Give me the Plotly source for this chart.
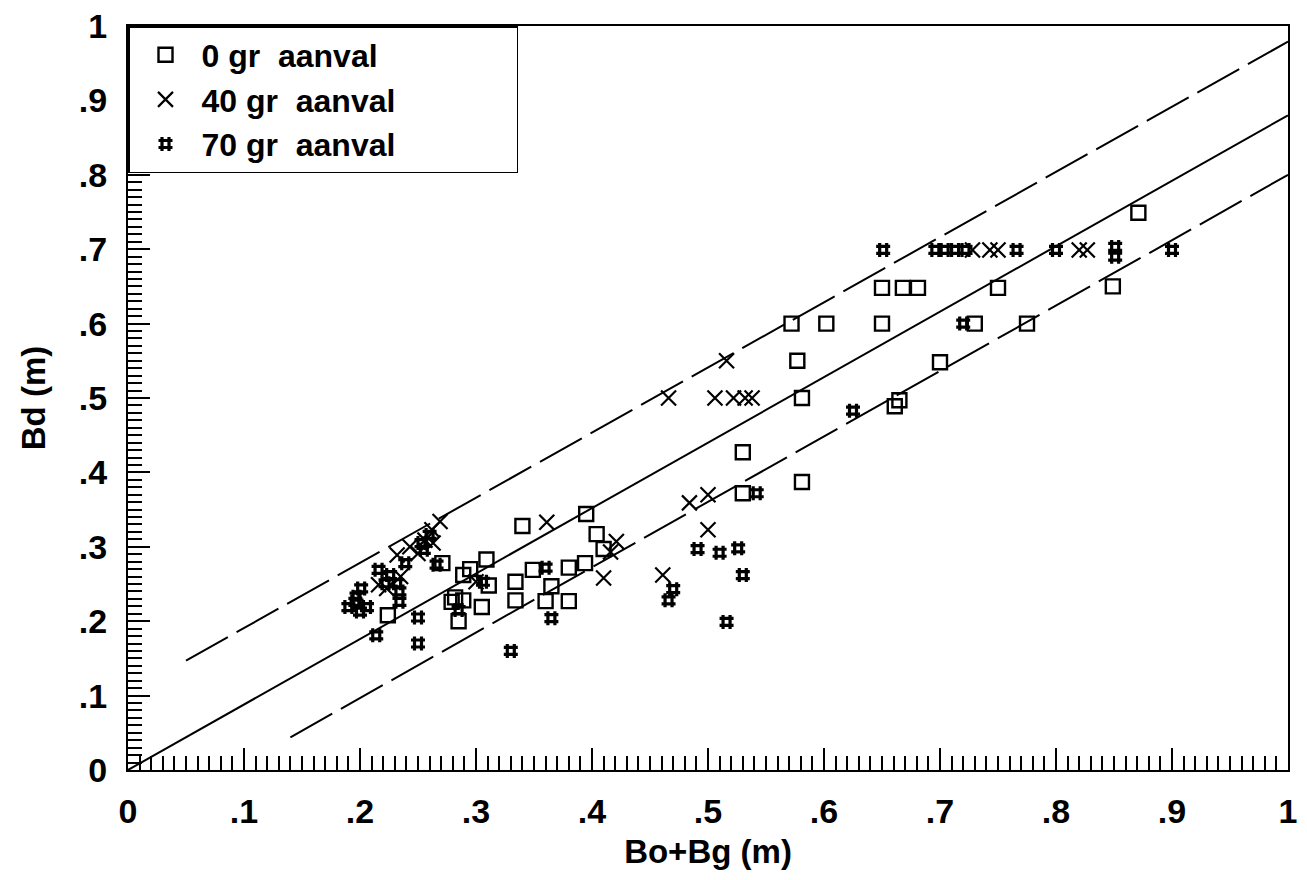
import plotly.graph_objects as go

# ---- data ----
sq_x = [0.224, 0.271, 0.279, 0.282, 0.285, 0.289, 0.289, 0.295, 0.305, 0.309,
        0.311, 0.334, 0.334, 0.340, 0.349, 0.360, 0.365, 0.380, 0.380, 0.394,
        0.395, 0.404, 0.410, 0.530, 0.530, 0.572, 0.577, 0.581, 0.581, 0.602,
        0.650, 0.650, 0.661, 0.665, 0.668, 0.681, 0.700, 0.730, 0.750, 0.775,
        0.849, 0.871]
sq_y = [0.208, 0.278, 0.226, 0.232, 0.200, 0.228, 0.262, 0.270, 0.219, 0.283,
        0.248, 0.253, 0.228, 0.328, 0.269, 0.227, 0.247, 0.272, 0.227, 0.278,
        0.344, 0.317, 0.297, 0.427, 0.372, 0.600, 0.550, 0.500, 0.387, 0.600,
        0.648, 0.600, 0.489, 0.497, 0.648, 0.648, 0.548, 0.600, 0.648, 0.600,
        0.650, 0.749]

x40_x = [0.216, 0.223, 0.232, 0.235, 0.243, 0.250, 0.256, 0.262, 0.263, 0.269,
         0.300, 0.361, 0.410, 0.416, 0.421, 0.461, 0.466, 0.484, 0.500, 0.500,
         0.506, 0.516, 0.522, 0.532, 0.538, 0.728, 0.743, 0.750, 0.820, 0.827]
x40_y = [0.249, 0.244, 0.289, 0.260, 0.300, 0.291, 0.309, 0.323, 0.305, 0.334,
         0.253, 0.333, 0.258, 0.293, 0.307, 0.262, 0.500, 0.359, 0.370, 0.323,
         0.500, 0.550, 0.500, 0.500, 0.500, 0.699, 0.699, 0.699, 0.699, 0.699]

h70_x = [0.190, 0.196, 0.197, 0.200, 0.201, 0.206, 0.214, 0.216, 0.222, 0.226,
         0.232, 0.234, 0.234, 0.239, 0.250, 0.250, 0.253, 0.255, 0.260, 0.266,
         0.285, 0.306, 0.330, 0.360, 0.365, 0.466, 0.470, 0.491, 0.510, 0.516,
         0.526, 0.530, 0.542, 0.625, 0.651, 0.696, 0.704, 0.713, 0.722, 0.720,
         0.766, 0.800, 0.851, 0.851, 0.900]
h70_y = [0.219, 0.226, 0.233, 0.213, 0.244, 0.219, 0.181, 0.269, 0.251, 0.262,
         0.251, 0.240, 0.226, 0.278, 0.205, 0.170, 0.305, 0.296, 0.316, 0.276,
         0.215, 0.253, 0.160, 0.272, 0.204, 0.228, 0.243, 0.297, 0.292, 0.199,
         0.298, 0.262, 0.372, 0.483, 0.699, 0.699, 0.699, 0.699, 0.699, 0.600,
         0.699, 0.699, 0.703, 0.690, 0.699]

# reference lines (endpoints)
mid_x = [0.0, 1.0]
mid_y = [0.0, 0.88]
up_x = [0.05, 1.0]
up_y = [0.147, 0.979]
lo_x = [0.14, 1.0]
lo_y = [0.044, 0.800]

tick_vals = [0, 0.1, 0.2, 0.3, 0.4, 0.5, 0.6, 0.7, 0.8, 0.9, 1.0]
tick_text = ["0", ".1", ".2", ".3", ".4", ".5", ".6", ".7", ".8", ".9", "1"]

legend_names = ["0 gr\u00a0 aanval", "40 gr\u00a0 aanval", "70 gr\u00a0 aanval"]

FONT = "Liberation Sans"
PAD = "\u00a0" * 13

fig = go.Figure()

fig.add_trace(go.Scatter(x=up_x, y=up_y, mode="lines", showlegend=False,
                         line=dict(color="black", width=2, dash="48px,10px"),
                         hoverinfo="skip"))
fig.add_trace(go.Scatter(x=mid_x, y=mid_y, mode="lines", showlegend=False,
                         line=dict(color="black", width=2),
                         hoverinfo="skip"))
fig.add_trace(go.Scatter(x=lo_x, y=lo_y, mode="lines", showlegend=False,
                         line=dict(color="black", width=2, dash="48px,10px"),
                         hoverinfo="skip"))

fig.add_trace(go.Scatter(
    x=sq_x, y=sq_y, mode="markers", name=legend_names[0] + PAD,
    marker=dict(symbol="square-open", size=14, color="black",
                line=dict(width=2.4, color="black"))))
fig.add_trace(go.Scatter(
    x=x40_x, y=x40_y, mode="markers", name=legend_names[1] + PAD,
    marker=dict(symbol="x-thin-open", size=15, color="black",
                line=dict(width=2.2, color="black"))))
fig.add_trace(go.Scatter(
    x=h70_x, y=h70_y, mode="markers", name=legend_names[2] + PAD,
    marker=dict(symbol="hash-open", size=14, color="black",
                line=dict(width=3.2, color="black"))))

axis_common = dict(
    range=[0, 1], tickvals=tick_vals, ticktext=tick_text, automargin=False,
    showgrid=False, zeroline=False, showline=True, linecolor="black",
    linewidth=2, mirror=True, ticks="inside", ticklen=22, tickwidth=1.5,
    tickcolor="black", ticklabeloverflow="allow",
    tickfont=dict(family=FONT, size=34, color="black", weight="bold"),
    minor=dict(ticks="inside", dtick=0.01, ticklen=14, tickwidth=1.5,
               tickcolor="black", showgrid=False),
)

fig.update_xaxes(**axis_common, ticklabelstandoff=10,
                 title=dict(text="Bo+Bg (m)", standoff=11,
                            font=dict(family=FONT, size=33, color="black",
                                      weight="bold")))
fig.update_yaxes(**axis_common, ticklabelstandoff=12,
                 title=dict(text="Bd (m)", standoff=23,
                            font=dict(family=FONT, size=33, color="black",
                                      weight="bold")))

fig.update_layout(
    width=1299, height=872,
    margin=dict(l=120, r=19, t=18, b=110),
    plot_bgcolor="white", paper_bgcolor="white",
    legend=dict(x=0, y=1, xanchor="left", yanchor="top",
                bgcolor="white", bordercolor="black", borderwidth=1.5,
                font=dict(family=FONT, size=32, color="black", weight="bold"),
                itemwidth=62),
)

fig.write_html("out.html")
